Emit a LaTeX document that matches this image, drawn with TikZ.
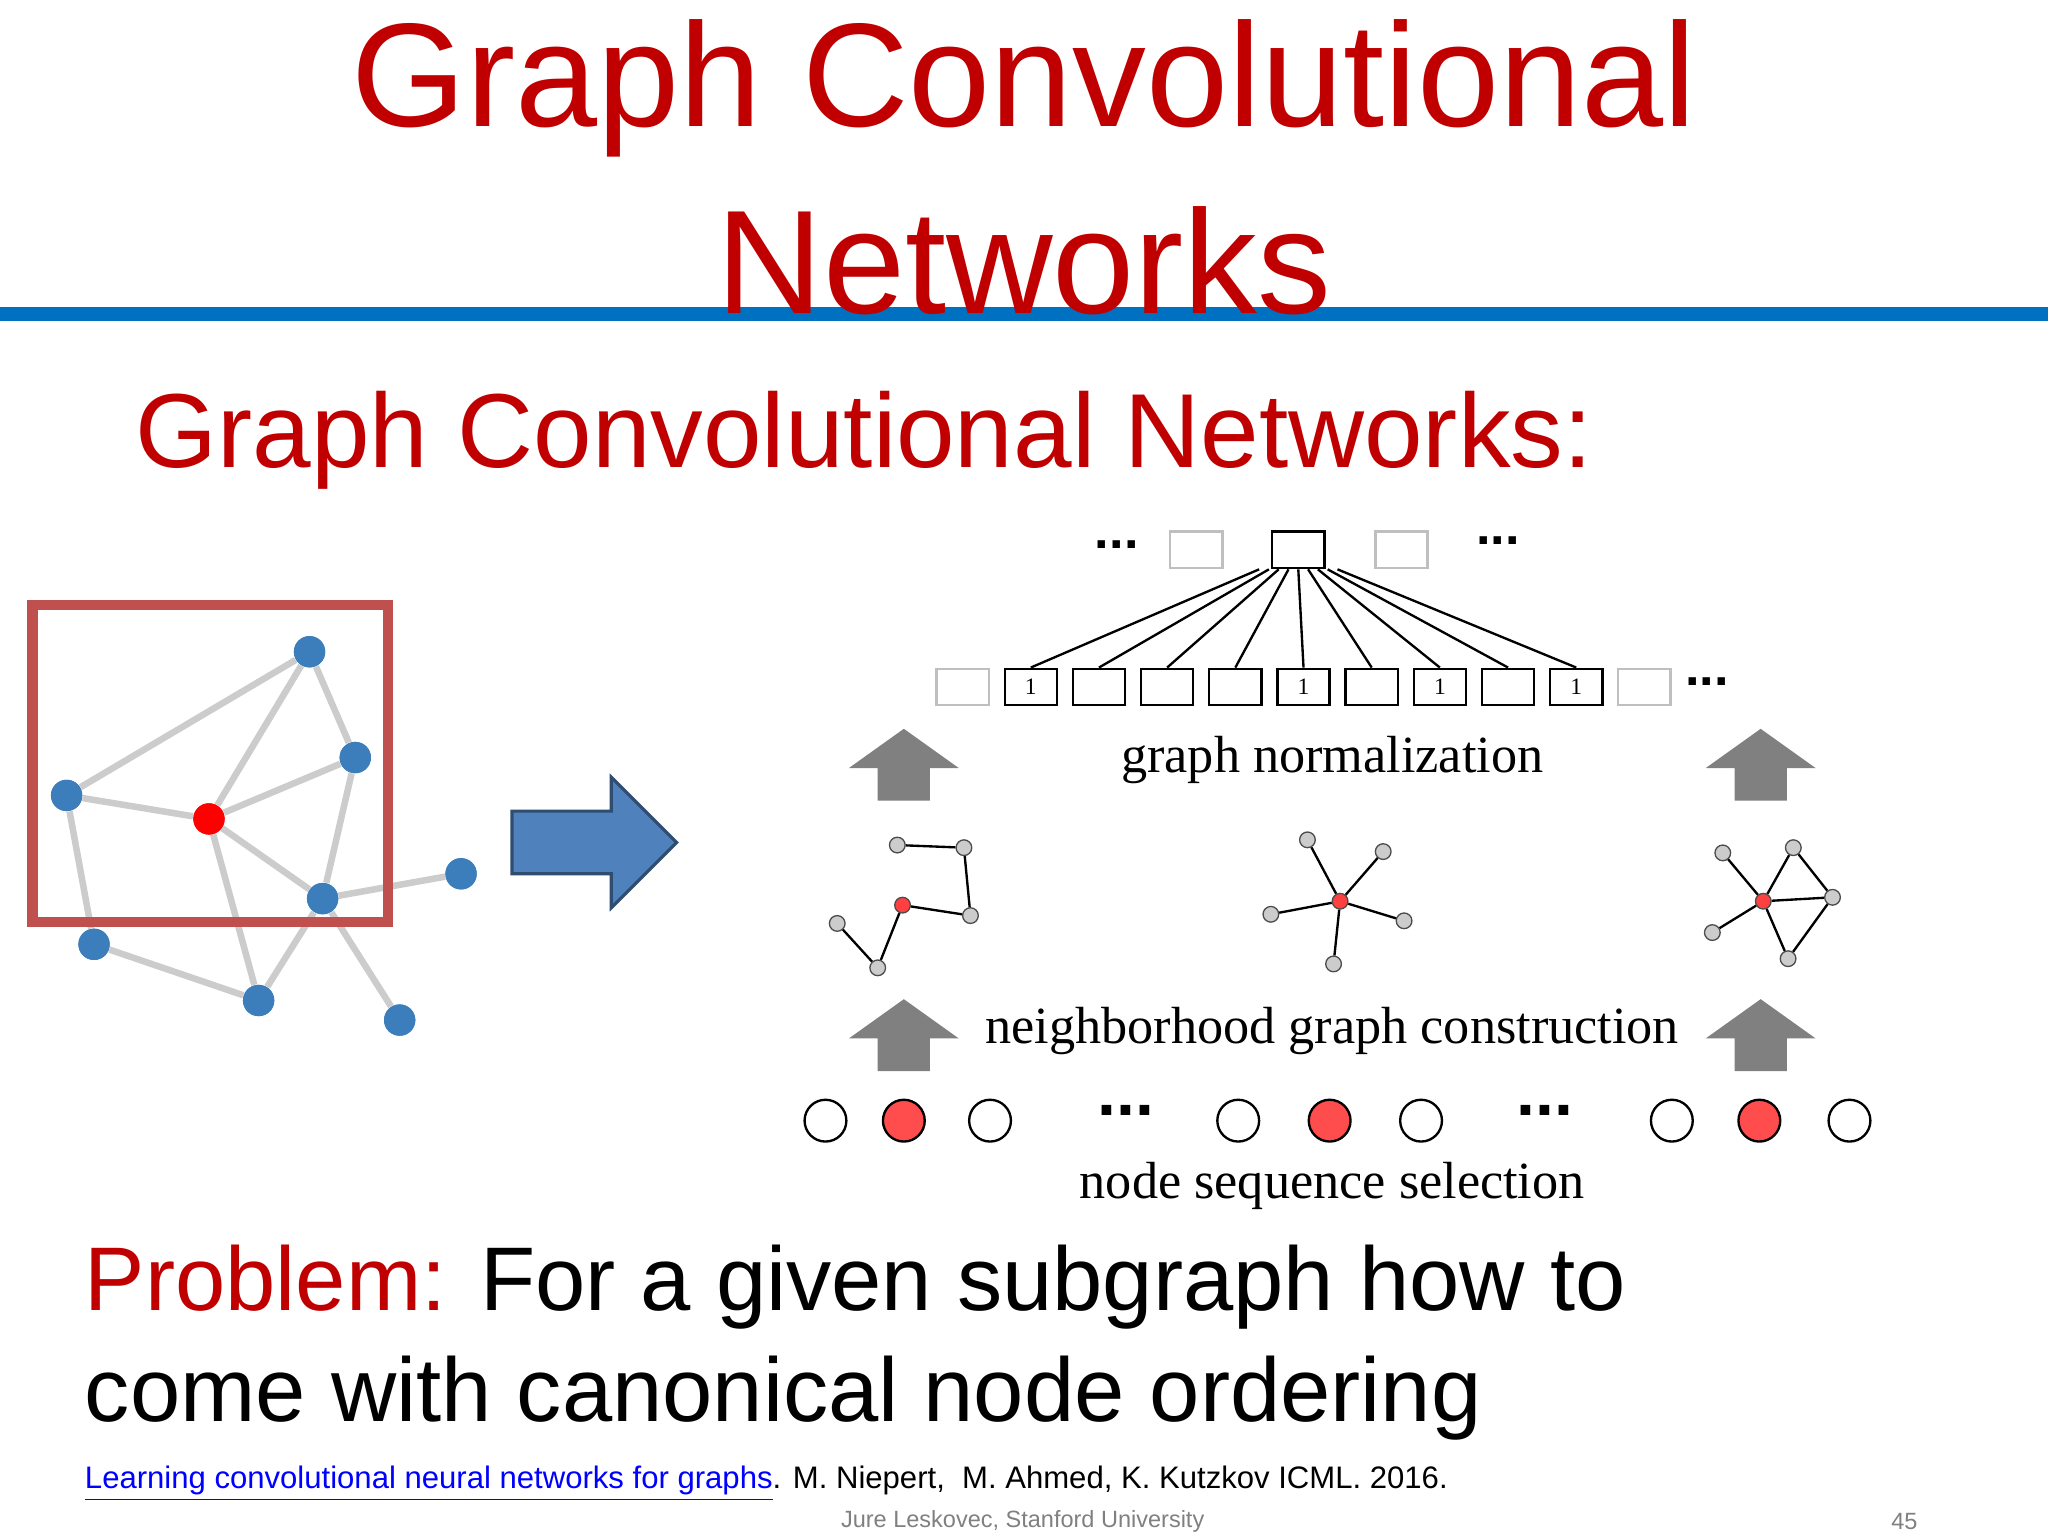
\documentclass[tikz,border=0pt]{standalone}
\usepackage{fontspec}
\setmainfont{Liberation Sans}
\newfontfamily\serifx{Liberation Serif}
\definecolor{tred}{HTML}{C00000}
\definecolor{tblue}{HTML}{0070C0}
\definecolor{gblue}{HTML}{3C7DBB}
\definecolor{rbox}{HTML}{C0504D}
\definecolor{arrb}{HTML}{4F81BD}
\begin{document}
\begin{tikzpicture}[x=0.5pt,y=-0.5pt,
 bn/.style={circle,fill=gblue,inner sep=0,minimum size=12pt},
 be/.style={draw=black!20,line width=2.5},
 sn/.style={circle,draw=black!70,fill=black!20,inner sep=0,minimum size=6pt,line width=0.5},
 srn/.style={sn,fill=red!75},
 se/.style={draw=black,line width=0.9},
 bx/.style={draw=black,line width=0.9,minimum width=20,minimum height=14,inner sep=0,font=\serifx\fontsize{9}{9}\selectfont},
 lbx/.style={bx,draw=black!25},
 oc/.style={circle,draw=black,line width=0.9,minimum size=16,inner sep=0},
 rc/.style={oc,fill=red!70},
 lab/.style={font=\serifx\fontsize{20}{24}\selectfont},
 dots/.style={font=\bfseries\fontsize{20}{20}\selectfont}]
\useasboundingbox (0,0) rectangle (1568,1176);
% title
\node[text=tred,font=\fontsize{56.5}{60}\selectfont] (t1) at (784,68) {Graph Convolutional};
\fill[tblue] (0,235) rectangle (1568,246);
\node[text=tred,font=\fontsize{56.5}{60}\selectfont] (t2) at (784,200) {Networks};
\node[text=tred,font=\fontsize{40.3}{42}\selectfont,anchor=west] (st) at (97,337) {Graph Convolutional Networks:};
% left graph
\foreach \n/\x/\y in {A/237/499,B/272/580,C/51/609,D/247/688,E/353/669,F/72/723,G/198/766,H/306/781}
  \node[bn] (\n) at (\x,\y) {};
\node[bn,fill=red] (R) at (160,627) {};
\foreach \a/\b in {A/C,A/R,A/B,B/R,B/D,C/R,C/F,R/D,R/G,D/E,D/G,D/H,F/G}
  \draw[be] (\a) -- (\b);
\foreach \n in {A,B,C,D,E,F,G,H} \node[bn] at (\n) {};
\node[bn,fill=red] at (R) {};
\draw[rbox,line width=4] (25,463) rectangle (297,706);
% big arrow
\draw[fill=arrb,draw=arrb!60!black,line width=1.2] (392,621) -- (468,621) -- (468,595) -- (518,645) -- (468,695) -- (468,669) -- (392,669) -- cycle;
% top boxes
\node[dots] (d1) at (855,417) {...};
\node[lbx] (tl) at (916,421) {};
\node[bx] (tc) at (994,421) {};
\node[lbx] (tr) at (1073,421) {};
\node[dots] (d2) at (1147,414) {...};
\foreach \i in {1,...,11}{
  \pgfmathsetmacro\xx{737+(\i-1)*52.2}
  \node[bx] (b\i) at (\xx,526) {};
}
\node[lbx] at (b1) {};\node[lbx] at (b11) {};
\foreach \i in {2,6,8,10} \node[bx] at (b\i) {1};
\node[dots] (d3) at (1307,522) {...};
\foreach \i [count=\k] in {2,...,10}{
  \pgfmathsetmacro\ox{-15+(\k-1)*3.75}
  \draw[se] ([xshift=\ox*1pt]tc.south) -- (b\i.north);
}
% gray arrows
\foreach \x/\y in {692/558,1348/558,692/765,1348/765}
  \fill[black!50] (\x,\y) -- (\x+42,\y+30) -- (\x+20,\y+30) -- (\x+20,\y+55) -- (\x-20,\y+55) -- (\x-20,\y+30) -- (\x-42,\y+30) -- cycle;
\node[lab] (l1) at (1020,582) {graph normalization};
\node[lab] (l2) at (1020,789) {neighborhood graph construction};
\node[lab] (l3) at (1020,908) {node sequence selection};
% small graphs
\foreach \n/\x/\y in {p1/687/647,p2/738/649,p3/743/701,p5/672/741,p6/641/707,q1/1001/643,q2/1059/652,q3/973/700,q4/1075/705,q5/1021/738,r1/1319/653,r2/1373/649,r3/1403/687,r4/1369/734,r5/1311/714}
  \node[sn] (\n) at (\x,\y) {};
\node[srn] (p4) at (691,693) {};
\node[srn] (q0) at (1026,690) {};
\node[srn] (r0) at (1350,690) {};
\foreach \a/\b in {p1/p2,p2/p3,p3/p4,p4/p5,p5/p6,q0/q1,q0/q2,q0/q3,q0/q4,q0/q5,r0/r1,r0/r2,r0/r3,r0/r4,r0/r5,r2/r3,r3/r4}
  \draw[se] (\a) -- (\b);
% circles
\foreach \n/\x in {c1/632,c3/758,c4/948,c6/1088,c7/1280,c9/1416} \node[oc] (\n) at (\x,858) {};
\foreach \n/\x in {c2/692,c5/1018,c8/1347} \node[rc] (\n) at (\x,858) {};
\node[font=\bfseries\fontsize{26}{26}\selectfont] (e1) at (862,850) {...};
\node[font=\bfseries\fontsize{26}{26}\selectfont] (e2) at (1183,850) {...};
% problem
\node[anchor=base west,font=\fontsize{34.6}{40}\selectfont] (pr1) at (58,1003) {\textcolor{tred}{Problem:} For a given subgraph how to};
\node[anchor=base west,font=\fontsize{34.6}{40}\selectfont] (pr2) at (58,1088) {come with canonical node ordering};
\node[anchor=base west,font=\fontsize{11.9}{13}\selectfont] (ref) at (58,1140) {\textcolor{blue}{\underline{Learning convolutional neural networks for graphs}}. M. Niepert,\ \ M. Ahmed, K. Kutzkov ICML. 2016.};
\node[text=black!50,font=\fontsize{9}{10}\selectfont] (ft) at (783,1165) {Jure Leskovec, Stanford University};
\node[text=black!50,font=\fontsize{9}{10}\selectfont] (pg) at (1458,1165) {45};
\end{tikzpicture}
\end{document}
